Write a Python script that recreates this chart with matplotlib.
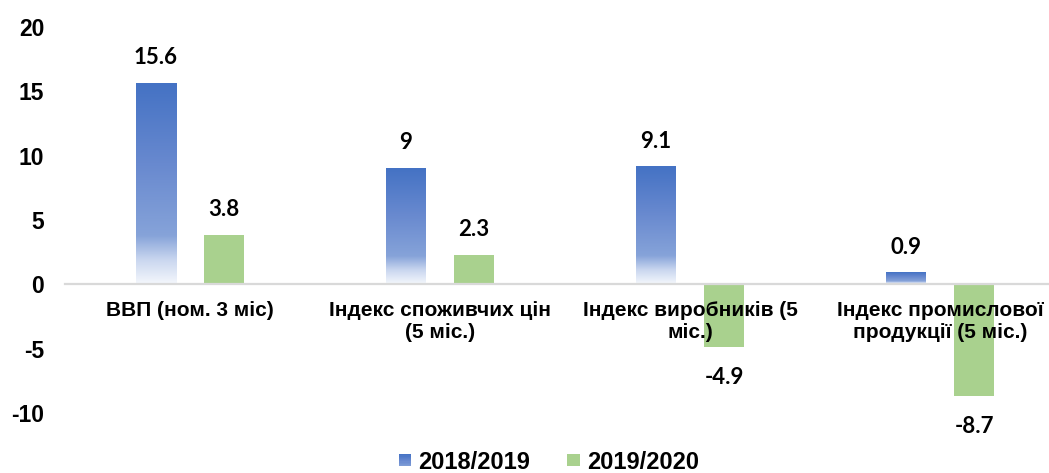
import numpy as np
import matplotlib
matplotlib.use("Agg")
import matplotlib.pyplot as plt
from matplotlib.colors import LinearSegmentedColormap
from matplotlib.patches import Rectangle
from matplotlib.legend_handler import HandlerBase

categories = ["ВВП (ном. 3 міс)", "Індекс споживчих цін\n(5 міс.)",
              "Індекс виробників (5\nміс.)", "Індекс промислової\nпродукції (5 міс.)"]
series_names = ["2018/2019", "2019/2020"]
values_2018_2019 = [15.6, 9, 9.1, 0.9]
values_2019_2020 = [3.8, 2.3, -4.9, -8.7]
yticks = [-10, -5, 0, 5, 10, 15, 20]

BLUE = "#4472C4"
GREEN = "#A9D18E"
grad_cmap = LinearSegmentedColormap.from_list(
    "bgrad", [(0.0, "#F4F7FC"), (0.12, "#C9D6EF"), (0.24, "#86A3D9"),
              (0.6, "#6889CF"), (1.0, BLUE)])

W, H = 1049, 473
fig = plt.figure(figsize=(W / 100, H / 100), dpi=100)
ax = fig.add_axes([65 / W, (H - 413) / H, 1000 / W, 386 / H])

x = np.arange(len(categories))
bw = 0.16
off = 0.136

bars1 = ax.bar(x - off, values_2018_2019, bw, color="none", edgecolor="none", zorder=2)
bars2 = ax.bar(x + off, values_2019_2020, bw, color=GREEN, edgecolor="none", zorder=2)

grad = np.linspace(0, 1, 256).reshape(-1, 1)
for b in bars1:
    x0, y0 = b.get_x(), b.get_y()
    w, h = b.get_width(), b.get_height()
    ax.imshow(grad, cmap=grad_cmap, origin="lower", aspect="auto",
              extent=(x0, x0 + w, y0, y0 + h), zorder=2, interpolation="bilinear")

ax.set_xlim(-0.5, len(categories) - 0.5)
ax.set_ylim(-10, 20)
ax.set_yticks(yticks)
ax.set_yticklabels([str(t) for t in yticks], fontfamily="Liberation Sans",
                   fontweight="bold", fontsize=16.5)
ax.tick_params(axis="y", length=0, pad=15)
ax.set_xticks([])
for s in ax.spines.values():
    s.set_visible(False)
ax.axhline(0, color="#D9D9D9", lw=1.6, zorder=3, clip_on=False, xmax=1.0)

for xi, lab in zip(x, categories):
    ax.text(xi, -1.3, lab, ha="center", va="top", fontsize=15,
            fontfamily="Liberation Sans", fontweight="bold", zorder=5,
            linespacing=1.2)

def lab(v):
    return f"{v:g}"

for bars, vals in ((bars1, values_2018_2019), (bars2, values_2019_2020)):
    for b, v in zip(bars, vals):
        cx = b.get_x() + b.get_width() / 2
        dy = 18.5 if v >= 0 else -22
        ax.annotate(lab(v), (cx, v), xytext=(0, dy), textcoords="offset points",
                    ha="center", va="center", fontsize=16, fontfamily="Lato",
                    fontweight="bold", annotation_clip=False, zorder=5)

class GradHandler(HandlerBase):
    def create_artists(self, legend, orig_handle, xdescent, ydescent, width,
                       height, fontsize, trans):
        n = 10
        side = height * 0.75
        x0 = -xdescent + width - side
        y0 = -ydescent + (height - side) / 2
        arts = []
        for i in range(n):
            c = grad_cmap(0.3 + 0.7 * (i + 0.5) / n)
            r = Rectangle((x0, y0 + side * i / n), side, side / n + 0.05,
                          facecolor=c, edgecolor="none", transform=trans)
            arts.append(r)
        return arts

class SqHandler(HandlerBase):
    def create_artists(self, legend, orig_handle, xdescent, ydescent, width,
                       height, fontsize, trans):
        side = height * 0.75
        x0 = -xdescent + width - side
        y0 = -ydescent + (height - side) / 2
        return [Rectangle((x0, y0), side, side, facecolor=GREEN,
                          edgecolor="none", transform=trans)]

h1 = Rectangle((0, 0), 1, 1)
h2 = Rectangle((0, 0), 1, 1, facecolor=GREEN)
leg = fig.legend([h1, h2], series_names, loc="center",
                 bbox_to_anchor=(548 / W, 1 - 462 / H), ncol=2, frameon=False,
                 handler_map={h1: GradHandler(), h2: SqHandler()},
                 prop={"family": "Liberation Sans", "weight": "bold", "size": 17},
                 handlelength=0.6, handletextpad=0.3, columnspacing=1.5,
                 borderpad=0)

fig.savefig("out.png", dpi=100)
